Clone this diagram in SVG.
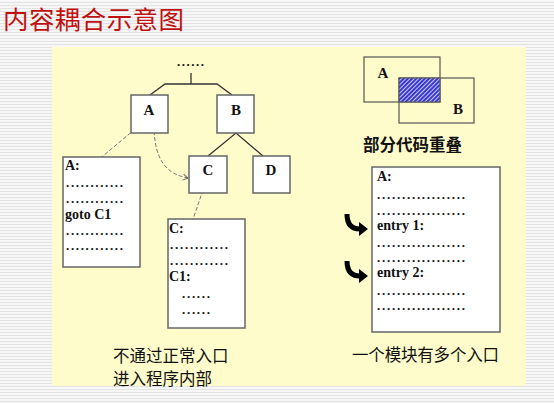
<svg xmlns="http://www.w3.org/2000/svg" width="554" height="403" viewBox="0 0 554 403">
<defs>
<pattern id="stripes" width="4" height="3" patternUnits="userSpaceOnUse">
<rect width="4" height="3" fill="#f7f7f7"/>
<rect y="2" width="4" height="1" fill="#e3e3e3"/>
</pattern>
<pattern id="hatch" width="3" height="3" patternUnits="userSpaceOnUse" patternTransform="rotate(45)">
<rect width="3" height="3" fill="#3a3ad0"/>
<rect width="1" height="3" fill="#c8c8f0"/>
</pattern>
<marker id="arr" markerWidth="8" markerHeight="8" refX="6" refY="4" orient="auto" markerUnits="userSpaceOnUse">
<path d="M1,1 L6,4 L1,7" fill="none" stroke="#666" stroke-width="1"/>
</marker>
</defs>
<style>
.box{fill:#fff;stroke:#666;stroke-width:1.5}
.tree{fill:none;stroke:#333;stroke-width:1.3}
.dash{fill:none;stroke:#777;stroke-width:1;stroke-dasharray:4 2}
.lab{font-family:"Liberation Serif",serif;font-weight:bold;font-size:15px;fill:#111;text-anchor:middle}
.code{font-family:"Liberation Serif",serif;font-weight:bold;font-size:14px;fill:#111}
.dots{font-family:"Liberation Serif",serif;font-weight:bold;font-size:13px;fill:#111}
.cjk{font-family:"Noto Sans CJK SC",sans-serif;font-size:16.5px;fill:#111}
</style>
<rect width="554" height="403" fill="url(#stripes)"/>
<rect x="52" y="47" width="474" height="339" fill="#fffccc"/>
<text x="3" y="29" font-family="'Noto Sans CJK SC',sans-serif" font-size="25.5" fill="#c01010" textLength="181" lengthAdjust="spacing">内容耦合示意图</text>

<g id="connectors">
<path class="tree" d="M191,73 V84 M150,95 L165,84 H217 L232,95"/>
<path class="tree" d="M208,156 L236,133 L263,156"/>
<path class="dash" d="M140,125 L91,166"/>
<path class="dash" d="M154,125 C154,158 165,174 188,178" marker-end="url(#arr)"/>
<path class="dash" d="M203,190 L190,228"/>
</g>

<g id="top">
<text class="dots" x="177" y="66" textLength="27" lengthAdjust="spacing">......</text>
</g>
<g id="nodeA"><rect class="box" x="131" y="95" width="37" height="38"/><text class="lab" x="149" y="115">A</text></g>
<g id="nodeB"><rect class="box" x="217" y="95" width="37" height="38"/><text class="lab" x="236" y="115">B</text></g>
<g id="nodeC"><rect class="box" x="189" y="156" width="38" height="37"/><text class="lab" x="208" y="175">C</text></g>
<g id="nodeD"><rect class="box" x="253" y="156" width="37" height="37"/><text class="lab" x="271" y="175">D</text></g>

<g id="codeA">
<rect class="box" x="63" y="157" width="77" height="110"/>
<text class="code" x="65" y="170">A:</text>
<text class="dots" x="66" y="187" textLength="57" lengthAdjust="spacing">............</text>
<text class="dots" x="66" y="203" textLength="57" lengthAdjust="spacing">............</text>
<text class="code" x="65" y="219">goto C1</text>
<text class="dots" x="66" y="235" textLength="57" lengthAdjust="spacing">............</text>
<text class="dots" x="66" y="250" textLength="57" lengthAdjust="spacing">............</text>
</g>

<g id="codeC">
<rect class="box" x="168" y="219" width="77" height="109"/>
<text class="code" x="169" y="233">C:</text>
<text class="dots" x="170" y="249" textLength="58" lengthAdjust="spacing">............</text>
<text class="dots" x="170" y="265" textLength="58" lengthAdjust="spacing">............</text>
<text class="code" x="169" y="281">C1:</text>
<text class="dots" x="182" y="298" textLength="28" lengthAdjust="spacing">......</text>
<text class="dots" x="182" y="314" textLength="28" lengthAdjust="spacing">......</text>
</g>

<g id="overlap">
<rect x="364" y="57" width="76" height="45" fill="none" stroke="#555" stroke-width="1.2"/>
<rect x="399" y="78" width="75" height="45" fill="none" stroke="#555" stroke-width="1.2"/>
<rect x="399" y="78" width="41" height="24" fill="url(#hatch)" stroke="#555" stroke-width="1"/>
<text class="lab" x="383" y="78">A</text>
<text class="lab" x="458" y="114">B</text>
<text class="cjk" x="363" y="151" font-weight="bold">部分代码重叠</text>
</g>

<g id="codeMulti">
<rect class="box" x="372" y="167" width="128" height="165"/>
<text class="code" x="377" y="181">A:</text>
<text class="dots" x="377" y="199" textLength="88" lengthAdjust="spacing">..................</text>
<text class="dots" x="377" y="215" textLength="88" lengthAdjust="spacing">..................</text>
<text class="code" x="377" y="230">entry 1:</text>
<text class="dots" x="377" y="247" textLength="88" lengthAdjust="spacing">..................</text>
<text class="dots" x="377" y="262" textLength="88" lengthAdjust="spacing">..................</text>
<text class="code" x="377" y="277">entry 2:</text>
<text class="dots" x="377" y="295" textLength="88" lengthAdjust="spacing">..................</text>
<text class="dots" x="377" y="310" textLength="88" lengthAdjust="spacing">..................</text>
</g>

<g id="entryArrows">
<path d="M347,214 Q347,229 360,229" fill="none" stroke="#000" stroke-width="5"/>
<polygon points="359,222 368,229 359,236" fill="#000"/>
<path d="M347,261 Q347,276 360,276" fill="none" stroke="#000" stroke-width="5"/>
<polygon points="359,269 368,276 359,283" fill="#000"/>
</g>

<g id="captions">
<text class="cjk" x="113" y="362" font-size="16">不通过正常入口</text>
<text class="cjk" x="113" y="385" font-size="16">进入程序内部</text>
<text class="cjk" x="352" y="361" textLength="147" lengthAdjust="spacing">一个模块有多个入口</text>
</g>
</svg>
